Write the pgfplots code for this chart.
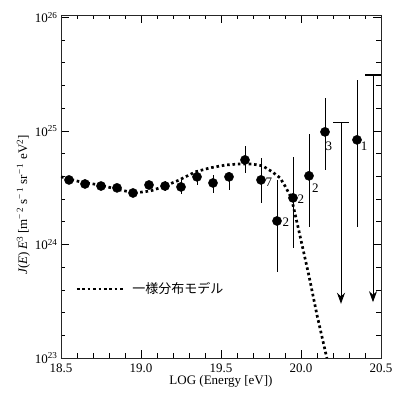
\documentclass[border=0pt]{standalone}
\usepackage{pgfplots}
\pgfplotsset{compat=1.18}
\usepackage{pgfplotstable}
\usepackage{fontspec}
\setmainfont{Liberation Serif}
\newfontfamily\cjk{Noto Sans CJK JP}
\usetikzlibrary{arrows.meta}

\pgfplotsset{longleg/.style={legend image code/.code={\draw[##1] (0pt,0pt) -- (48pt,0pt); \path (52pt,0pt);}}}

\pgfplotstableread{
x y lo hi
18.55 3.70e24 3.66e24 3.74e24
18.65 3.41e24 3.37e24 3.45e24
18.75 3.27e24 3.23e24 3.31e24
18.85 3.15e24 3.11e24 3.19e24
18.95 2.84e24 2.80e24 2.88e24
19.05 3.34e24 3.28e24 3.40e24
19.15 3.27e24 2.96e24 3.62e24
19.25 3.21e24 2.79e24 3.70e24
19.35 3.94e24 3.34e24 4.27e24
19.45 3.48e24 2.84e24 4.09e24
19.55 3.94e24 3.02e24 4.36e24
19.65 5.55e24 4.27e24 7.38e24
19.75 3.70e24 2.32e24 5.78e24
19.85 1.61e24 5.73e23 3.70e24
19.95 2.57e24 9.31e23 5.90e24
20.05 4.02e24 1.43e24 9.42e24
20.15 9.80e24 4.53e24 1.95e25
20.35 8.34e24 1.43e24 2.81e25
}\points

\pgfplotstableread{
x y
18.50 3.94e24
18.62 3.56e24
18.74 3.34e24
18.87 3.02e24
18.96 2.84e24
19.06 2.96e24
19.15 3.27e24
19.24 3.70e24
19.34 4.36e24
19.43 4.72e24
19.53 5.01e24
19.62 5.12e24
19.69 5.12e24
19.76 4.92e24
19.82 4.36e24
19.87 3.85e24
19.90 3.27e24
19.94 2.57e24
19.99 1.26e24
20.05 5.27e23
20.10 2.39e23
20.165 0.95e23
}\model

\begin{document}
\begin{tikzpicture}
\path[use as bounding box] (-61pt,-35pt) rectangle (336pt,358pt);
\begin{axis}[
  scale only axis,
  width=320pt, height=343pt,
  xmin=18.5, xmax=20.5,
  ymode=log, ymin=1e23, ymax=1.05e26,
  xtick={18.5,19.0,19.5,20.0,20.5},
  xticklabels={18.5,19.0,19.5,20.0,20.5},
  minor x tick num=4,
  ytick={1e23,1e24,1e25,1e26},
  yticklabels={10\textsuperscript{23},10\textsuperscript{24},10\textsuperscript{25},10\textsuperscript{26}},
  minor ytick={1.585e23,2.512e23,3.981e23,6.310e23,1.585e24,2.512e24,3.981e24,6.310e24,1.585e25,2.512e25,3.981e25,6.310e25},
  tick align=inside,
  major tick length=8pt, minor tick length=4.5pt,
  tick style={black, line width=0.6pt},
  axis line style={line width=0.8pt, black!85},
  ticklabel style={font=\fontsize{13}{15}\selectfont},
  xticklabel style={yshift=-2pt},
  label style={font=\fontsize{13}{15}\selectfont},
  xlabel={LOG (Energy [eV])},
  ylabel={\textit{J}(\textit{E})\,\textit{E}\textsuperscript{3} [m\textsuperscript{−\,2} s\textsuperscript{−\,1} sr\textsuperscript{−\,1} eV\textsuperscript{2}]},
  xlabel style={yshift=4pt},
  ylabel style={at={(ticklabel cs:0.446)}, yshift=-2pt},
  legend style={draw=none, fill=none, at={(0.045,0.201)}, anchor=west, inner sep=0pt,
    font=\cjk\fontsize{13}{15}\selectfont},
  legend cell align=left,
]
\addplot[black, line width=2.7pt, dash pattern=on 2.6pt off 2.8pt, longleg]
  table[x=x,y=y] {\model};
\addlegendentry{一様分布モデル}

\addplot[black, only marks, mark=*, mark size=4.6pt,
  error bars/.cd, y dir=both, y explicit, error mark=none,
  error bar style={line width=0.9pt, black}]
  table[x=x, y=y,
    y error plus expr=\thisrow{hi}-\thisrow{y},
    y error minus expr=\thisrow{y}-\thisrow{lo}] {\points};

% upper limits
\addplot[black, line width=0.9pt, -{Stealth[length=11pt,width=8pt]}, forget plot]
  coordinates {(20.25,1.18e25) (20.25,3.0e23)};
\addplot[black, line width=0.9pt, -{Stealth[length=11pt,width=8pt]}, forget plot]
  coordinates {(20.45,3.11e25) (20.45,3.1e23)};
\addplot[black, only marks, mark=-, mark size=8pt, mark options={line width=1.1pt}, forget plot]
  coordinates {(20.25,1.18e25) (20.45,3.11e25)};

\node[font=\fontsize{13}{15}\selectfont] at (axis cs:19.80,3.56e24) {7};
\node[font=\fontsize{13}{15}\selectfont] at (axis cs:19.905,1.58e24) {2};
\node[font=\fontsize{13}{15}\selectfont] at (axis cs:20.0,2.52e24) {2};
\node[font=\fontsize{13}{15}\selectfont] at (axis cs:20.09,3.15e24) {2};
\node[font=\fontsize{13}{15}\selectfont] at (axis cs:20.175,7.38e24) {3};
\node[font=\fontsize{13}{15}\selectfont] at (axis cs:20.394,7.38e24) {1};
\end{axis}
\end{tikzpicture}
\end{document}
